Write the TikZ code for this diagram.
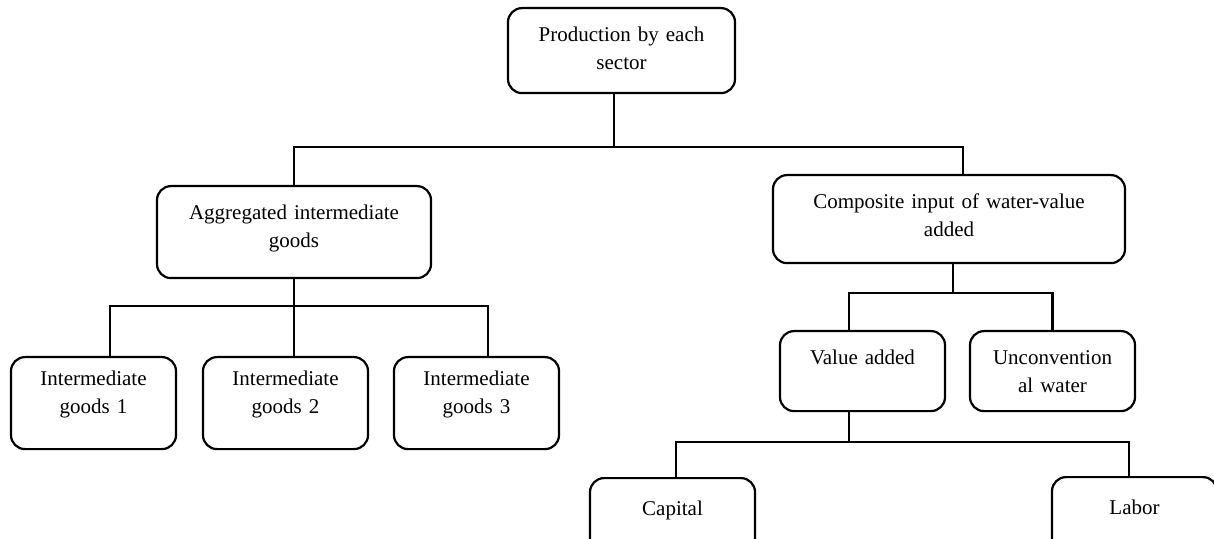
\documentclass[tikz,border=0pt]{standalone}
\usepackage{fontspec}
\setmainfont{Liberation Serif}

\begin{document}
\begin{tikzpicture}
    %[x=0.5pt,y=-0.5pt,every node/.style={draw,rounded corners}]
    [x=0.5pt,y=-0.5pt,line width=1.1pt,
     every node/.style={draw,rounded corners=7pt,anchor=north,inner sep=0pt,align=center,
       text width=82.5pt,text height=16.5pt,text depth=23.5pt,font=\fontsize{10.5}{14}\selectfont},
     goods/.style={text height=14pt,text depth=32pt},
     factor/.style={text height=18.5pt,text depth=27.5pt}]
    \useasboundingbox (0,0) rectangle (1214,539);
    \clip (0,0) rectangle (1214,539);

    \node[text width=113.5pt,text depth=26pt] (np) at (621.5,7) {Production by each\\sector};
    \node[text width=137pt,text depth=29.5pt] (na) at (294,185) {Aggregated intermediate\\goods};
    \node[text width=176pt,text depth=27.5pt] (nc) at (949,174) {Composite input of water-value\\added};

    \node[goods] (ni1) at (93.5,356)  {Intermediate\\goods 1};
    \node[goods] (ni2) at (285.5,356) {Intermediate\\goods 2};
    \node[goods] (ni3) at (476.5,356) {Intermediate\\goods 3};

    \node (nv) at (862.5,330)  {Value added};
    \node (nu) at (1052.5,330) {Unconvention\\al water};

    \node[factor] (nk) at (672.5,477) {Capital};
    \node[factor] (nl) at (1134.5,476) {Labor};

    \coordinate (b1) at (614,147);
    \coordinate (b2) at (294,306);
    \coordinate (b3) at (953,293);
    \coordinate (b4) at (849,442);

    \draw (b1 |- np.south) -- (b1);
    \draw (na.north) |- (b1) -| ([xshift=7pt]nc.north);

    \draw (na.south) -- (b2);
    \draw ([xshift=8.25pt]ni1.north) |- (b2) -| ([xshift=5.75pt]ni3.north);
    \draw (b2) -- (b2 |- ni2.north);

    \draw (b3 |- nc.south) -- (b3);
    \draw (b4 |- nv.north) |- (b3) -| (nu.north);

    \draw (b4 |- nv.south) -- (b4);
    \draw ([xshift=1.75pt]nk.north) |- (b4) -| ([xshift=-2.75pt]nl.north);
\end{tikzpicture}
\end{document}
